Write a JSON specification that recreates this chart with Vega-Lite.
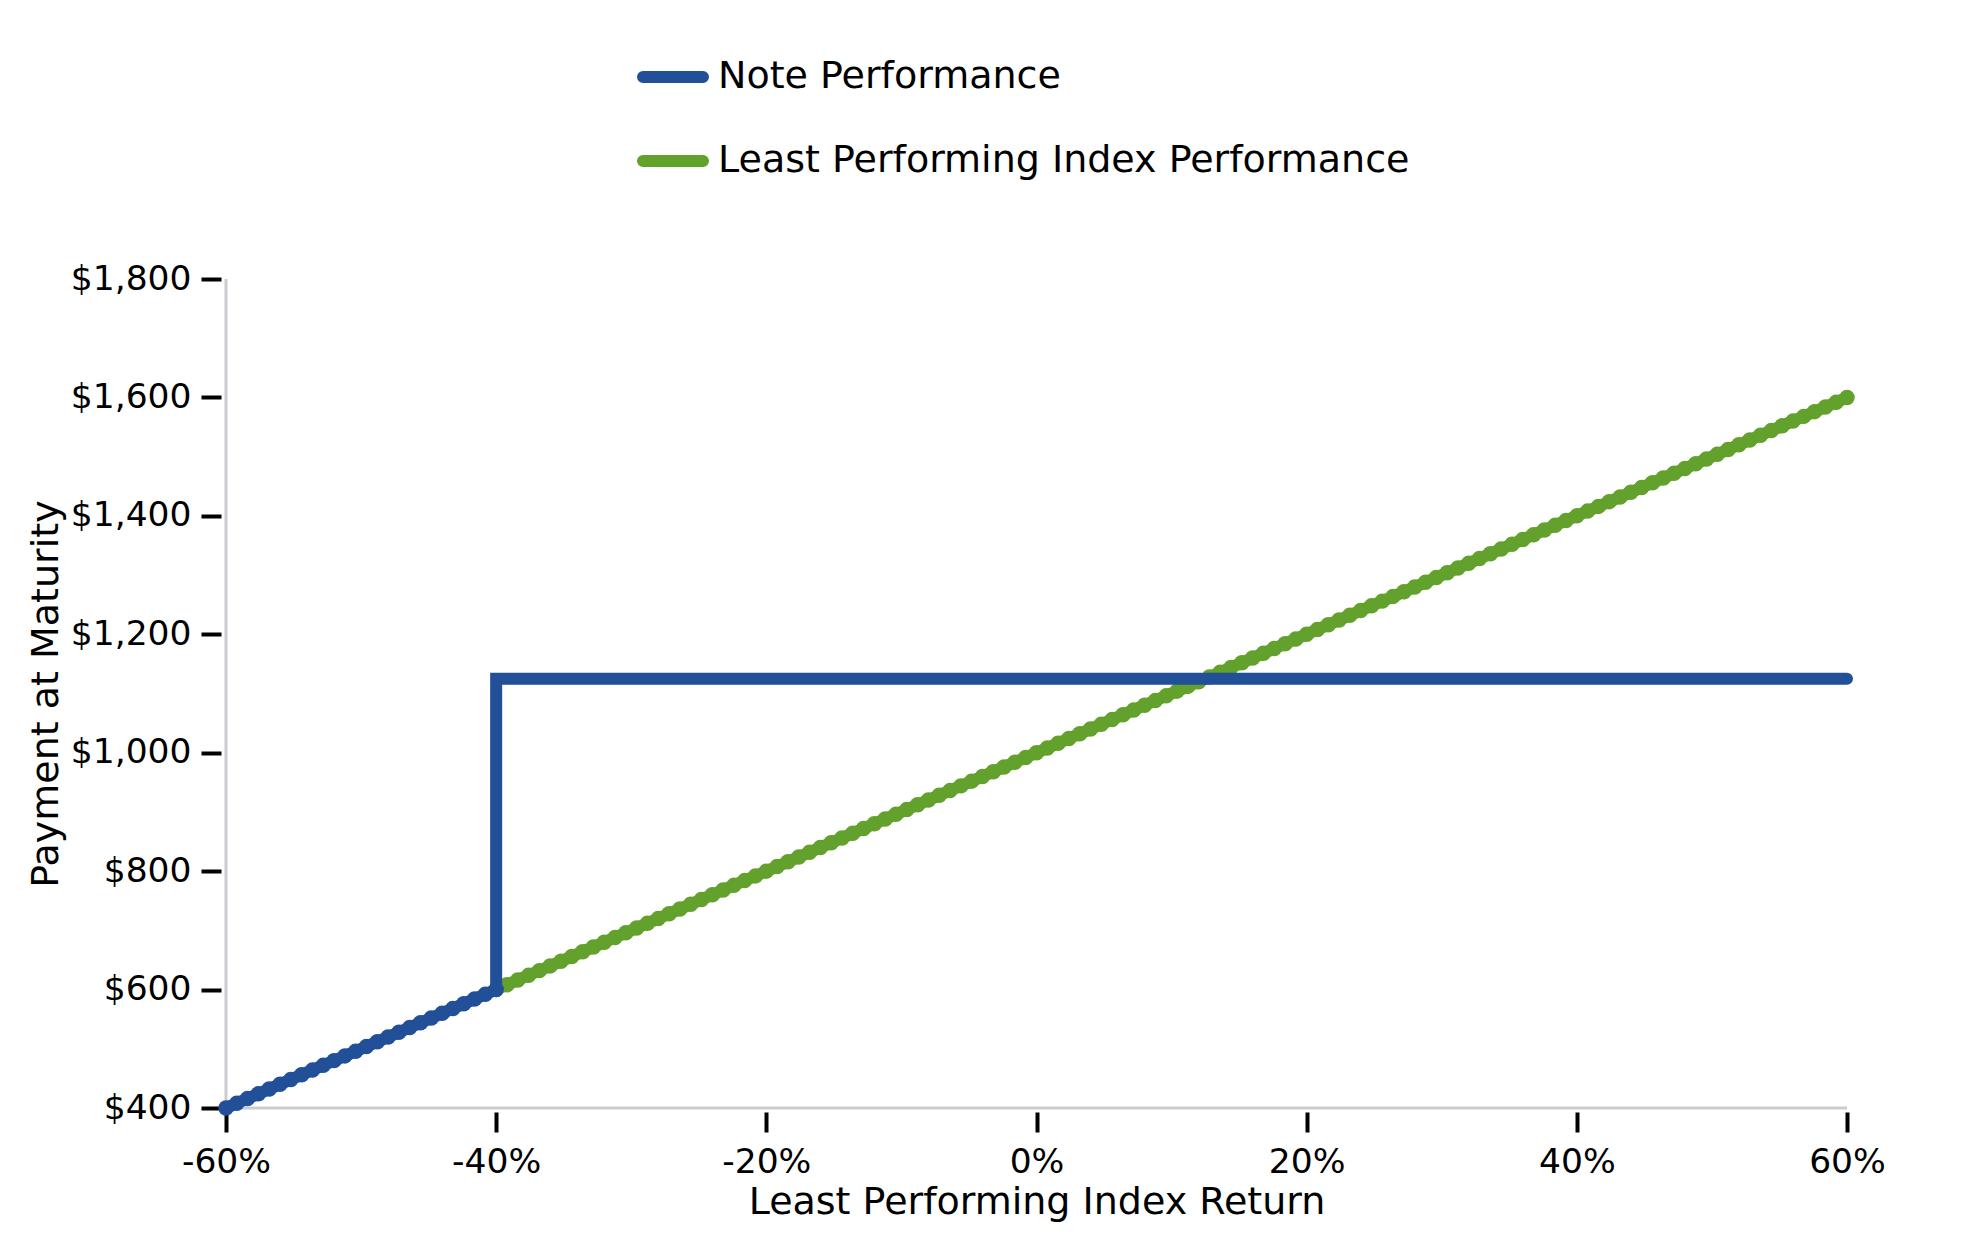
{
  "$schema": "https://vega.github.io/schema/vega-lite/v6.json",
  "description": "Payment at maturity vs least performing index return",
  "width": 1621,
  "height": 829,
  "autosize": {"type": "none"},
  "padding": {"left": 226, "top": 279, "right": 132, "bottom": 142},
  "background": "white",
  "view": {"stroke": null},
  "datasets": {
    "note": [
      {"r": -60, "pay": 400}, {"r": -59.2, "pay": 408}, {"r": -58.4, "pay": 416}, {"r": -57.6, "pay": 424},
      {"r": -56.8, "pay": 432}, {"r": -56, "pay": 440}, {"r": -55.2, "pay": 448}, {"r": -54.4, "pay": 456},
      {"r": -53.6, "pay": 464}, {"r": -52.8, "pay": 472}, {"r": -52, "pay": 480}, {"r": -51.2, "pay": 488},
      {"r": -50.4, "pay": 496}, {"r": -49.6, "pay": 504}, {"r": -48.8, "pay": 512}, {"r": -48, "pay": 520},
      {"r": -47.2, "pay": 528}, {"r": -46.4, "pay": 536}, {"r": -45.6, "pay": 544}, {"r": -44.8, "pay": 552},
      {"r": -44, "pay": 560}, {"r": -43.2, "pay": 568}, {"r": -42.4, "pay": 576}, {"r": -41.6, "pay": 584},
      {"r": -40.8, "pay": 592}, {"r": -40, "pay": 600},
      {"r": -40, "pay": 1125}, {"r": 60, "pay": 1125}
    ],
    "index": [
      {"r": -40, "pay": 600}, {"r": -39.2, "pay": 608}, {"r": -38.4, "pay": 616}, {"r": -37.6, "pay": 624},
      {"r": -36.8, "pay": 632}, {"r": -36, "pay": 640}, {"r": -35.2, "pay": 648}, {"r": -34.4, "pay": 656},
      {"r": -33.6, "pay": 664}, {"r": -32.8, "pay": 672}, {"r": -32, "pay": 680}, {"r": -31.2, "pay": 688},
      {"r": -30.4, "pay": 696}, {"r": -29.6, "pay": 704}, {"r": -28.8, "pay": 712}, {"r": -28, "pay": 720},
      {"r": -27.2, "pay": 728}, {"r": -26.4, "pay": 736}, {"r": -25.6, "pay": 744}, {"r": -24.8, "pay": 752},
      {"r": -24, "pay": 760}, {"r": -23.2, "pay": 768}, {"r": -22.4, "pay": 776}, {"r": -21.6, "pay": 784},
      {"r": -20.8, "pay": 792}, {"r": -20, "pay": 800}, {"r": -19.2, "pay": 808}, {"r": -18.4, "pay": 816},
      {"r": -17.6, "pay": 824}, {"r": -16.8, "pay": 832}, {"r": -16, "pay": 840}, {"r": -15.2, "pay": 848},
      {"r": -14.4, "pay": 856}, {"r": -13.6, "pay": 864}, {"r": -12.8, "pay": 872}, {"r": -12, "pay": 880},
      {"r": -11.2, "pay": 888}, {"r": -10.4, "pay": 896}, {"r": -9.6, "pay": 904}, {"r": -8.8, "pay": 912},
      {"r": -8, "pay": 920}, {"r": -7.2, "pay": 928}, {"r": -6.4, "pay": 936}, {"r": -5.6, "pay": 944},
      {"r": -4.8, "pay": 952}, {"r": -4, "pay": 960}, {"r": -3.2, "pay": 968}, {"r": -2.4, "pay": 976},
      {"r": -1.6, "pay": 984}, {"r": -0.8, "pay": 992}, {"r": 0, "pay": 1000}, {"r": 0.8, "pay": 1008},
      {"r": 1.6, "pay": 1016}, {"r": 2.4, "pay": 1024}, {"r": 3.2, "pay": 1032}, {"r": 4, "pay": 1040},
      {"r": 4.8, "pay": 1048}, {"r": 5.6, "pay": 1056}, {"r": 6.4, "pay": 1064}, {"r": 7.2, "pay": 1072},
      {"r": 8, "pay": 1080}, {"r": 8.8, "pay": 1088}, {"r": 9.6, "pay": 1096}, {"r": 10.4, "pay": 1104},
      {"r": 11.2, "pay": 1112}, {"r": 12, "pay": 1120}, {"r": 12.8, "pay": 1128}, {"r": 13.6, "pay": 1136},
      {"r": 14.4, "pay": 1144}, {"r": 15.2, "pay": 1152}, {"r": 16, "pay": 1160}, {"r": 16.8, "pay": 1168},
      {"r": 17.6, "pay": 1176}, {"r": 18.4, "pay": 1184}, {"r": 19.2, "pay": 1192}, {"r": 20, "pay": 1200},
      {"r": 20.8, "pay": 1208}, {"r": 21.6, "pay": 1216}, {"r": 22.4, "pay": 1224}, {"r": 23.2, "pay": 1232},
      {"r": 24, "pay": 1240}, {"r": 24.8, "pay": 1248}, {"r": 25.6, "pay": 1256}, {"r": 26.4, "pay": 1264},
      {"r": 27.2, "pay": 1272}, {"r": 28, "pay": 1280}, {"r": 28.8, "pay": 1288}, {"r": 29.6, "pay": 1296},
      {"r": 30.4, "pay": 1304}, {"r": 31.2, "pay": 1312}, {"r": 32, "pay": 1320}, {"r": 32.8, "pay": 1328},
      {"r": 33.6, "pay": 1336}, {"r": 34.4, "pay": 1344}, {"r": 35.2, "pay": 1352}, {"r": 36, "pay": 1360},
      {"r": 36.8, "pay": 1368}, {"r": 37.6, "pay": 1376}, {"r": 38.4, "pay": 1384}, {"r": 39.2, "pay": 1392},
      {"r": 40, "pay": 1400}, {"r": 40.8, "pay": 1408}, {"r": 41.6, "pay": 1416}, {"r": 42.4, "pay": 1424},
      {"r": 43.2, "pay": 1432}, {"r": 44, "pay": 1440}, {"r": 44.8, "pay": 1448}, {"r": 45.6, "pay": 1456},
      {"r": 46.4, "pay": 1464}, {"r": 47.2, "pay": 1472}, {"r": 48, "pay": 1480}, {"r": 48.8, "pay": 1488},
      {"r": 49.6, "pay": 1496}, {"r": 50.4, "pay": 1504}, {"r": 51.2, "pay": 1512}, {"r": 52, "pay": 1520},
      {"r": 52.8, "pay": 1528}, {"r": 53.6, "pay": 1536}, {"r": 54.4, "pay": 1544}, {"r": 55.2, "pay": 1552},
      {"r": 56, "pay": 1560}, {"r": 56.8, "pay": 1568}, {"r": 57.6, "pay": 1576}, {"r": 58.4, "pay": 1584},
      {"r": 59.2, "pay": 1592}, {"r": 60, "pay": 1600}
    ]
  },
  "layer": [
    {
      "data": {"values": [{}]},
      "mark": {"type": "rule", "color": "#c9cdd2", "strokeWidth": 3},
      "encoding": {
        "x": {"datum": -60, "type": "quantitative"},
        "y": {"datum": 400, "type": "quantitative"},
        "y2": {"datum": 1800}
      }
    },
    {
      "data": {"values": [{}]},
      "mark": {"type": "rule", "color": "#c9cdd2", "strokeWidth": 3},
      "encoding": {
        "x": {"datum": -60, "type": "quantitative"},
        "x2": {"datum": 60},
        "y": {"datum": 400, "type": "quantitative"}
      }
    },
    {
      "data": {"name": "index"},
      "mark": {
        "type": "line",
        "strokeWidth": 12,
        "strokeCap": "round",
        "point": {"filled": true, "size": 240}
      },
      "encoding": {
        "x": {
          "field": "r",
          "type": "quantitative",
          "scale": {"domain": [-60, 60], "nice": false, "zero": false},
          "axis": {
            "title": "Least Performing Index Return",
            "values": [-60, -40, -20, 0, 20, 40, 60],
            "labelExpr": "datum.value + '%'",
            "offset": 4,
            "tickSize": 20,
            "labelPadding": 13,
            "titlePadding": 5
          }
        },
        "y": {
          "field": "pay",
          "type": "quantitative",
          "scale": {"domain": [400, 1800], "nice": false, "zero": false},
          "axis": {
            "title": "Payment at Maturity",
            "values": [400, 600, 800, 1000, 1200, 1400, 1600, 1800],
            "format": "$,.0f",
            "offset": 5,
            "tickSize": 20,
            "labelPadding": 10,
            "titlePadding": 5
          }
        },
        "color": {
          "datum": "Least Performing Index Performance",
          "scale": {
            "domain": ["Note Performance", "Least Performing Index Performance"],
            "range": ["#214f98", "#62a12c"]
          }
        }
      }
    },
    {
      "data": {"name": "note"},
      "mark": {"type": "line", "strokeWidth": 12, "strokeJoin": "miter", "strokeCap": "round"},
      "encoding": {
        "x": {"field": "r", "type": "quantitative"},
        "y": {"field": "pay", "type": "quantitative"},
        "order": [{"field": "pay"}, {"field": "r"}],
        "color": {"datum": "Note Performance"}
      }
    },
    {
      "data": {"name": "note"},
      "transform": [{"filter": "datum.pay < 1100"}],
      "mark": {"type": "point", "filled": true, "size": 240, "opacity": 1},
      "encoding": {
        "x": {"field": "r", "type": "quantitative"},
        "y": {"field": "pay", "type": "quantitative"},
        "color": {"datum": "Note Performance"}
      }
    }
  ],
  "resolve": {"scale": {"color": "shared"}},
  "config": {
    "font": "DejaVu Sans",
    "axis": {
      "domain": false,
      "grid": false,
      "ticks": true,
      "tickColor": "black",
      "tickWidth": 4,
      "labelFont": "DejaVu Sans",
      "labelFontSize": 34.5,
      "labelColor": "black",
      "labelFlush": false,
      "labelOverlap": false,
      "titleFont": "DejaVu Sans",
      "titleFontSize": 38,
      "titleFontWeight": "normal",
      "titleColor": "black"
    },
    "legend": {
      "orient": "none",
      "legendX": 408,
      "legendY": -241,
      "direction": "vertical",
      "title": null,
      "padding": 0,
      "labelFont": "DejaVu Sans",
      "labelFontSize": 38,
      "labelColor": "black",
      "labelLimit": 0,
      "labelOffset": 6,
      "rowPadding": 26,
      "symbolType": "M-0.8333,-0.0833H0.8333A0.0833,0.0833 0 0 1 0.8333,0.0833H-0.8333A0.0833,0.0833 0 0 1 -0.8333,-0.0833Z",
      "symbolSize": 5184,
      "symbolStrokeWidth": 6
    }
  }
}
